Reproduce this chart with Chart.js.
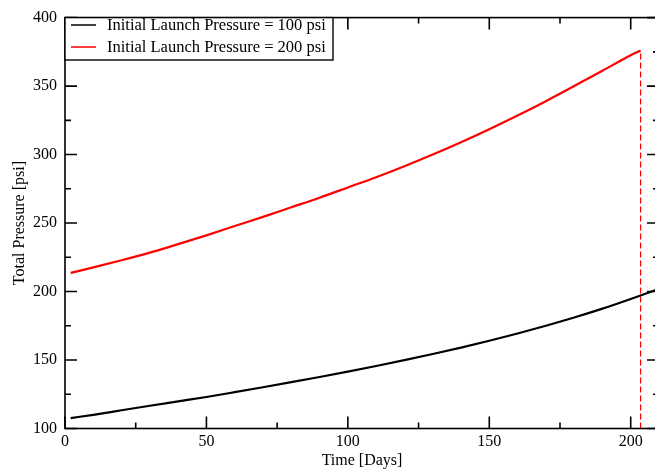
<!DOCTYPE html>
<html>
<head>
<meta charset="utf-8">
<title>Total Pressure vs Time</title>
<script src="https://cdn.jsdelivr.net/npm/chart.js"></script>
<style>
  html, body { margin: 0; padding: 0; background: #fff; overflow: hidden; }
  #wrap { width: 659px; height: 472px; position: relative; }
</style>
</head>
<body>
<div id="wrap"><canvas id="pressure-chart"></canvas></div>
<script>
// curva de presion para cada presion inicial de lanzamiento
var days100 = [2, 10, 20, 30, 40, 50, 60, 70, 80, 90, 100, 110, 120, 130, 140, 150, 160, 170, 180, 190, 200, 210];
var pressure100 = [107.6, 110.0, 113.3, 116.6, 119.8, 123.0, 126.5, 130.1, 133.8, 137.6, 141.5, 145.6, 149.9, 154.4, 159.1, 164.1, 169.4, 175.0, 181.0, 187.5, 194.6, 202.0];

var days200 = [2, 10, 20, 30, 40, 50, 60, 70, 80, 90, 100, 110, 120, 130, 140, 150, 160, 170, 180, 190, 200, 203.5];
var pressure200 = [213.6, 217.6, 222.8, 228.4, 234.6, 241.0, 247.8, 254.5, 261.5, 268.5, 276.0, 283.5, 291.5, 300.0, 309.0, 318.5, 328.5, 339.0, 350.0, 361.2, 372.5, 376.0];

// linea vertical al final de la curva de 200 psi
var markerDay = [203.5, 203.5];
var markerPressure = [100, 376.0];

var seriesLabels = ['Initial Launch Pressure = 100 psi', 'Initial Launch Pressure = 200 psi'];
var xTicks = [0, 50, 100, 150, 200];
var yTicks = [100, 150, 200, 250, 300, 350, 400];

var serif = "'Liberation Serif', 'Times New Roman', serif";

function toPoints(xs, ys) {
    return xs.map(function(x, i) { return {x: x, y: ys[i]}; });
}

// marco, marcas de escala hacia adentro y leyenda dentro del area
var framePlugin = {
    id: 'frame',
    afterDatasetsDraw: function(chart) {
        var ctx = chart.ctx;
        var area = chart.chartArea;
        var xs = chart.scales.x, ys = chart.scales.y;
        ctx.save();
        ctx.strokeStyle = '#000';
        ctx.lineWidth = 1.6;
        ctx.strokeRect(area.left, area.top, area.right - area.left, area.bottom - area.top);

        // marcas del eje x (mayores cada 50, menores cada 25)
        ctx.beginPath();
        for (var v = xs.min; v <= xs.max; v += 25) {
            var px = xs.getPixelForValue(v);
            var len = (v % 50 === 0) ? 12 : 6;
            ctx.moveTo(px, area.bottom); ctx.lineTo(px, area.bottom - len);
            ctx.moveTo(px, area.top); ctx.lineTo(px, area.top + len);
        }
        // marcas del eje y
        for (var w = ys.min; w <= ys.max; w += 25) {
            var py = ys.getPixelForValue(w);
            var l = (w % 50 === 0) ? 12 : 6;
            ctx.moveTo(area.left, py); ctx.lineTo(area.left + l, py);
            ctx.moveTo(area.right, py); ctx.lineTo(area.right - l, py);
        }
        ctx.stroke();

        // leyenda
        var bx = area.left, by = area.top, bw = 333 - area.left, bh = 60 - area.top;
        ctx.fillStyle = '#fff';
        ctx.fillRect(bx, by, bw, bh);
        ctx.lineWidth = 1.4;
        ctx.strokeRect(bx, by, bw, bh);
        ctx.font = '16.5px ' + serif;
        ctx.textBaseline = 'middle';
        ctx.textAlign = 'left';
        var rows = [25, 47];
        for (var i = 0; i < 2; i++) {
            var ds = chart.data.datasets[i];
            ctx.strokeStyle = ds.borderColor;
            ctx.lineWidth = 1.5;
            ctx.beginPath();
            ctx.moveTo(71, rows[i]); ctx.lineTo(96, rows[i]);
            ctx.stroke();
            ctx.fillStyle = '#000';
            ctx.fillText(ds.label, 107, rows[i] + 1);
        }
        ctx.restore();
    }
};

var ctx = document.getElementById('pressure-chart').getContext('2d');
var pressureChart = new Chart(ctx, {
    type: 'line',
    data: {
        datasets: [{
            label: seriesLabels[0],
            data: toPoints(days100, pressure100),
            borderColor: '#000000',
            borderWidth: 2.2,
            pointRadius: 0,
            cubicInterpolationMode: 'monotone',
            fill: false
        }, {
            label: seriesLabels[1],
            data: toPoints(days200, pressure200),
            borderColor: '#ff0000',
            borderWidth: 2.2,
            pointRadius: 0,
            cubicInterpolationMode: 'monotone',
            fill: false
        }, {
            label: 'marker',
            data: toPoints(markerDay, markerPressure),
            borderColor: '#ff0000',
            borderWidth: 1.2,
            borderDash: [6, 3],
            pointRadius: 0,
            fill: false
        }]
    },
    options: {
        responsive: true,
        maintainAspectRatio: false,
        animation: false,
        layout: { padding: { top: 12.5, right: 0, bottom: 0, left: 0 } },
        plugins: {
            legend: { display: false },
            tooltip: { enabled: false }
        },
        scales: {
            x: {
                type: 'linear',
                min: 0,
                max: 210,
                afterBuildTicks: function(scale) {
                    scale.ticks = xTicks.map(function(v) { return {value: v}; });
                },
                afterFit: function(scale) { scale.height = 43.5; },
                grid: { display: false, drawTicks: false },
                border: { display: false },
                ticks: {
                    padding: 4,
                    color: '#000',
                    font: { family: serif, size: 16 }
                },
                title: {
                    display: true,
                    text: 'Time [Days]',
                    color: '#000',
                    font: { family: serif, size: 16 },
                    padding: { top: 0, bottom: 2 }
                }
            },
            y: {
                type: 'linear',
                min: 100,
                max: 400,
                afterBuildTicks: function(scale) {
                    scale.ticks = yTicks.map(function(v) { return {value: v}; });
                },
                afterFit: function(scale) { scale.width = 65; },
                grid: { display: false, drawTicks: false },
                border: { display: false },
                ticks: {
                    padding: 8,
                    color: '#000',
                    font: { family: serif, size: 16 }
                },
                title: {
                    display: true,
                    text: 'Total Pressure [psi]',
                    color: '#000',
                    font: { family: serif, size: 16 },
                    padding: { top: 10.4, bottom: 0 }
                }
            }
        }
    },
    plugins: [framePlugin]
});
</script>
</body>
</html>
